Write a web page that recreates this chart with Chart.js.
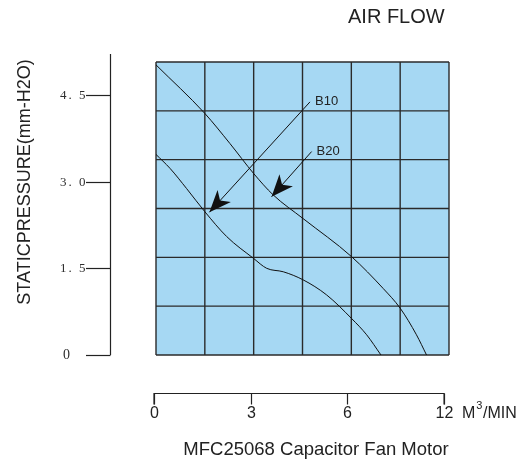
<!DOCTYPE html>
<html>
<head>
<meta charset="utf-8">
<script src="https://cdn.jsdelivr.net/npm/chart.js@4"></script>
<style>
  html, body { margin: 0; padding: 0; background: #ffffff; }
  #wrap { position: relative; width: 529px; height: 463px; }
</style>
</head>
<body>
<div id="wrap"><canvas id="c" width="529" height="463"></canvas></div>
<script>
// ---- data (axis units: x positions on the drawn scale, y in mm-H2O) ----
const b20X = [0, 1.5, 2.27, 3.0, 3.6, 4.52, 6.01, 6.98, 7.5, 8.0, 8.31];
const b20Y = [5.02, 4.18, 3.66, 3.14, 2.77, 2.36, 1.70, 1.15, 0.81, 0.35, 0];
const b10X = [0, 0.43, 0.94, 1.5, 2.17, 3.0, 3.4, 3.91, 4.52, 5.24, 6.01, 6.47, 6.91];
const b10Y = [3.47, 3.23, 2.88, 2.48, 2.05, 1.67, 1.50, 1.44, 1.30, 1.04, 0.63, 0.35, 0];

const xTickValues = [0, 3, 6, 9];
const xTickLabels = ['0', '3', '6', '12'];
const yTickValues = [0, 1.5, 3.0, 4.5];
const yTickLabels = ['0', '1. 5', '3. 0', '4. 5'];

const seriesNames = ['B10', 'B20'];
// arrow annotations: [labelX, labelY, tipX, tipY] in axis units
const arrowB10 = [4.73, 4.38, 1.64, 2.47];
const arrowB20 = [4.78, 3.52, 3.55, 2.74];

const xMax = 9, yMax = 5.07, gridDivs = 6;

const toPts = (xs, ys) => xs.map((x, i) => ({ x: x, y: ys[i] }));

const SANS = "Arial, 'Liberation Sans', Helvetica, sans-serif";
const SERIF = "'Liberation Serif', 'Times New Roman', serif";

const decor = {
  id: 'decor',
  beforeDatasetsDraw(chart) {
    const { ctx, chartArea: a, scales: { x, y } } = chart;
    ctx.save();
    ctx.fillStyle = '#a6d8f3';
    ctx.fillRect(a.left, a.top, a.right - a.left, a.bottom - a.top);
    ctx.strokeStyle = '#2a2a2a';
    ctx.lineWidth = 1.4;
    for (let i = 0; i <= gridDivs; i++) {
      const px = x.getPixelForValue(xMax * i / gridDivs);
      ctx.beginPath(); ctx.moveTo(px, a.top); ctx.lineTo(px, a.bottom); ctx.stroke();
      const py = y.getPixelForValue(yMax * i / gridDivs);
      ctx.beginPath(); ctx.moveTo(a.left, py); ctx.lineTo(a.right, py); ctx.stroke();
    }
    ctx.restore();
  },
  afterDatasetsDraw(chart) {
    const { ctx, chartArea: a, scales: { x, y } } = chart;
    ctx.save();
    // arrows
    const drawArrow = (arr, name) => {
      const sx = x.getPixelForValue(arr[0]), sy = y.getPixelForValue(arr[1]);
      const tx = x.getPixelForValue(arr[2]), ty = y.getPixelForValue(arr[3]);
      ctx.strokeStyle = '#111'; ctx.lineWidth = 1;
      ctx.beginPath(); ctx.moveTo(sx, sy); ctx.lineTo(tx, ty); ctx.stroke();
      const ang = Math.atan2(ty - sy, tx - sx);
      const L = 22, W = 9;
      ctx.save();
      ctx.translate(tx, ty); ctx.rotate(ang);
      ctx.fillStyle = '#111';
      ctx.beginPath();
      ctx.moveTo(0, 0);
      ctx.lineTo(-L, -W);
      ctx.lineTo(-L * 0.72, 0);
      ctx.lineTo(-L, W);
      ctx.closePath(); ctx.fill();
      ctx.restore();
      ctx.fillStyle = '#222';
      ctx.font = '13px ' + SANS;
      ctx.textAlign = 'left'; ctx.textBaseline = 'middle';
      ctx.fillText(name, sx + 5, sy);
    };
    drawArrow(arrowB10, seriesNames[0]);
    drawArrow(arrowB20, seriesNames[1]);

    // separate y axis
    const yAxX = 110.5;
    ctx.strokeStyle = '#222'; ctx.lineWidth = 1.2;
    ctx.beginPath();
    ctx.moveTo(yAxX, y.getPixelForValue(5.21));
    ctx.lineTo(yAxX, y.getPixelForValue(0));
    ctx.stroke();
    yTickValues.forEach((v, i) => {
      const py = Math.round(y.getPixelForValue(v)) + 0.5;
      ctx.beginPath(); ctx.moveTo(86, py); ctx.lineTo(yAxX, py); ctx.stroke();
      const lab = yTickLabels[i];
      ctx.fillStyle = '#2e2e2e';
      ctx.textAlign = 'left'; ctx.textBaseline = 'middle';
      if (lab === '0') {
        ctx.font = '14px ' + SERIF;
        ctx.letterSpacing = '0px';
        ctx.fillText(lab, 63, py);
      } else {
        ctx.font = '13px ' + SERIF;
        ctx.letterSpacing = '2px';
        ctx.fillText(lab, 60, py);
      }
      ctx.letterSpacing = '0px';
    });

    // separate x axis
    const xAxY = 393.5;
    const mapX = v => a.left - 2 + (x.getPixelForValue(v) - a.left) * 0.99;
    ctx.beginPath();
    ctx.moveTo(mapX(xTickValues[0]), xAxY + 11);
    ctx.lineTo(mapX(xTickValues[0]), xAxY);
    ctx.lineTo(mapX(xTickValues[xTickValues.length - 1]), xAxY);
    ctx.lineTo(mapX(xTickValues[xTickValues.length - 1]), xAxY + 11);
    ctx.stroke();
    ctx.fillStyle = '#222';
    ctx.font = '16px ' + SANS;
    ctx.textBaseline = 'middle';
    xTickValues.forEach((v, i) => {
      const px = Math.round(mapX(v)) + 0.5;
      ctx.beginPath(); ctx.moveTo(px, xAxY); ctx.lineTo(px, xAxY + 11); ctx.stroke();
      ctx.textAlign = 'center';
      ctx.fillText(xTickLabels[i], px, 414);
    });
    // unit label
    const ux = 462;
    ctx.textAlign = 'left';
    ctx.font = '16px ' + SANS;
    ctx.fillText('M', ux, 414);
    const mw = ctx.measureText('M').width;
    ctx.font = '11px ' + SANS;
    ctx.fillText('3', ux + mw + 1, 406);
    const sw = ctx.measureText('3').width;
    ctx.font = '16px ' + SANS;
    ctx.fillText('/MIN', ux + mw + sw + 1.5, 414);

    // titles
    ctx.fillStyle = '#222';
    ctx.font = '20px ' + SANS;
    ctx.textAlign = 'left';
    ctx.fillText('AIR FLOW', 348, 17);
    ctx.font = '18.5px ' + SANS;
    ctx.textAlign = 'center';
    ctx.fillText('MFC25068 Capacitor Fan Motor', 316, 450);
    ctx.save();
    ctx.translate(25, 182);
    ctx.rotate(-Math.PI / 2);
    ctx.font = '18px ' + SANS;
    ctx.fillText('STATICPRESSURE(mm-H2O)', 0, 0);
    ctx.restore();

    ctx.restore();
  }
};

new Chart(document.getElementById('c'), {
  type: 'line',
  data: {
    datasets: [
      { label: seriesNames[0], data: toPts(b10X, b10Y), borderColor: '#111', borderWidth: 1, pointRadius: 0, cubicInterpolationMode: 'monotone', fill: false },
      { label: seriesNames[1], data: toPts(b20X, b20Y), borderColor: '#111', borderWidth: 1, pointRadius: 0, cubicInterpolationMode: 'monotone', fill: false }
    ]
  },
  options: {
    responsive: false,
    animation: false,
    layout: { padding: { left: 156, top: 62, right: 80, bottom: 108 } },
    plugins: { legend: { display: false }, tooltip: { enabled: false } },
    scales: {
      x: { type: 'linear', min: 0, max: xMax, display: false },
      y: { type: 'linear', min: 0, max: yMax, display: false }
    }
  },
  plugins: [decor]
});
</script>
</body>
</html>
